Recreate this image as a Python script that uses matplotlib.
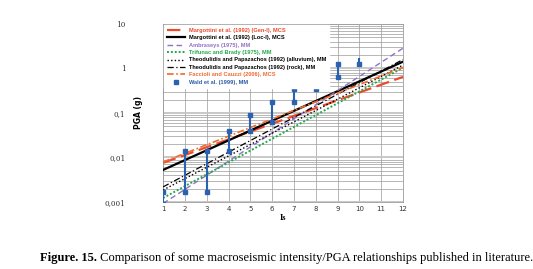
import matplotlib as mpl
mpl.use('Agg')
import matplotlib.pyplot as plt
import numpy as np

# relationships: log10(PGA[g]) = a + b*Is
names = ['Margottini et al. (1992) (Gen-I), MCS',
         'Margottini et al. (1992) (Loc-I), MCS',
         'Ambraseys (1975), MM',
         'Trifunac and Brady (1975), MM',
         'Theodulidis and Papazachos (1992) (alluvium), MM',
         'Theodulidis and Papazachos (1992) (rock), MM',
         'Faccioli and Cauzzi (2006), MCS']
intercepts = [-2.295, -2.50, -3.35, -3.176, -2.985, -2.92, -2.293]
slopes = [0.1755, 0.221, 0.317, 0.266, 0.255, 0.26, 0.193]

# Wald et al. (1999) intervals
wald_I = [1, 2, 3, 4, 5, 6, 7, 8, 9, 10]
wald_lo = [0.0009, 0.0017, 0.0017, 0.014, 0.039, 0.062, 0.18, 0.34, 0.65, 1.24]
wald_hi = [0.0017, 0.014, 0.014, 0.039, 0.092, 0.18, 0.34, 0.65, 1.24, 1.7]
wald_hi_mark = [True, True, True, True, True, True, True, False, True, False]

xticks = list(range(1, 13))
yticks = [0.001, 0.01, 0.1, 1, 10]
ytick_labels = ['0,001', '0,01', '0,1', '1', '10']

caption_bold = 'Figure. 15.'
caption_text = ' Comparison of some macroseismic intensity/PGA relationships published in literature.'

colors = ['#ee4a2a', 'black', '#9170c8', '#22aa4a', 'black', 'black', '#f26a2e']
styles = [dict(ls=(0, (6, 2.5)), lw=1.6),
          dict(ls='-', lw=1.6),
          dict(ls=(0, (4, 2.5)), lw=1.0),
          dict(ls=(0, (1, 1)), lw=1.4),
          dict(ls=(0, (1, 1.6)), lw=1.0),
          dict(ls=(0, (5, 2, 1, 2)), lw=0.9),
          dict(ls=(0, (4, 1.5, 1, 1.5)), lw=1.2)]
text_colors = ['#ee4a2a', 'black', '#9170c8', '#22aa4a', 'black', 'black', '#f26a2e', '#2b5aa8']
wald_col = '#2b62b0'

fig = plt.figure(figsize=(5.33, 2.69), dpi=100)
ax = fig.add_axes([0.306, 0.249, 0.450, 0.662])

Is = np.linspace(1, 12, 200)
handles = []
for a, b, c, st, nm in zip(intercepts, slopes, colors, styles, names):
  h, = ax.plot(Is, 10 ** (a + b * Is), color=c, label=nm, zorder=3, **st)
  handles.append(h)

ax.vlines(wald_I, wald_lo, wald_hi, color=wald_col, lw=1.5, zorder=4)
ax.plot(wald_I, wald_lo, 's', color=wald_col, ms=2.6, zorder=5)
hi_I = [i for i, m in zip(wald_I, wald_hi_mark) if m]
hi_v = [v for v, m in zip(wald_hi, wald_hi_mark) if m]
hw, = ax.plot(hi_I, hi_v, 's', color=wald_col, ms=2.6, zorder=5, label='Wald et al. (1999), MM')
handles.append(hw)

ax.set_yscale('log')
ax.set_xlim(1, 12)
ax.set_ylim(0.001, 10)
ax.set_xticks(xticks)
ax.set_xticklabels([str(t) for t in xticks], fontsize=5, color='#333333')
ax.set_yticks(yticks)
ax.set_yticklabels(ytick_labels, fontsize=5.2, family='DejaVu Serif', color='#333333')
ax.tick_params(axis='both', which='both', length=0)
ax.tick_params(axis='y', pad=27)
ax.tick_params(axis='x', pad=3)

ax.grid(True, which='major', axis='y', color='#c4c4c4', lw=1.3, zorder=0)
ax.grid(True, which='minor', axis='y', color='#9a9a9a', lw=0.5, zorder=0)
ax.grid(True, which='major', axis='x', color='#9a9a9a', lw=0.5, zorder=0)
ax.set_axisbelow(True)
for s in ax.spines.values():
  s.set_color('#9a9a9a')
  s.set_linewidth(0.6)

ax.set_ylabel('PGA (g)', fontsize=5.5, fontweight='bold')
ax.yaxis.set_label_coords(-0.085, 0.5)
ax.set_xlabel('Is', fontsize=6, fontweight='bold', family='Liberation Serif', labelpad=1)

leg = ax.legend(handles=handles, loc='upper left', fontsize=4.1, frameon=True, fancybox=False,
                handlelength=3.2, handletextpad=0.6, borderpad=0.5, labelspacing=0.42,
                borderaxespad=0.2, markerscale=0.9)
leg.get_frame().set_edgecolor('white')
leg.get_frame().set_facecolor('white')
leg.get_frame().set_alpha(1)
for t, c in zip(leg.get_texts(), text_colors):
  t.set_color(c)
  t.set_fontweight('bold')
  t.set_family('Liberation Sans')

# caption: bold part then regular part
r = fig.canvas.get_renderer()
t1 = fig.text(0.075, 0.03, caption_bold, fontsize=9, family='Liberation Serif', fontweight='bold')
bb = t1.get_window_extent(renderer=r)
fig.text(bb.x1 / fig.bbox.width, 0.03, caption_text, fontsize=9, family='Liberation Serif')

fig.savefig('out.png', dpi=100)
